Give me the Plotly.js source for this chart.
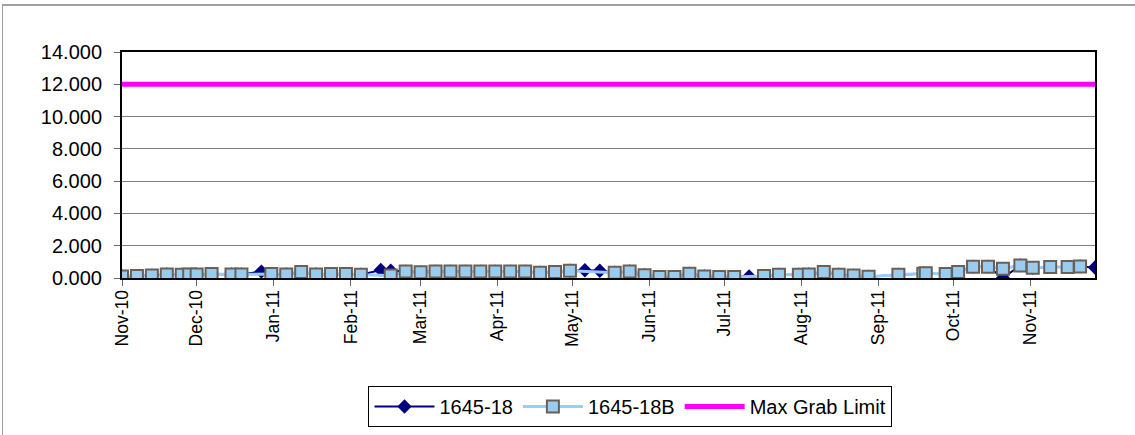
<!DOCTYPE html>
<html>
<head>
<meta charset="utf-8">
<script src="https://cdn.plot.ly/plotly-3.0.1.min.js"></script>
<style>
  html, body { margin: 0; padding: 0; background: #fff; }
  #chart { width: 1135px; height: 435px; position: absolute; left: 0; top: 0; }
  #frame { position: absolute; left: 2px; top: 4px; width: 1140px; height: 440px;
           border-left: 1px solid #a0a0a0; border-top: 2px solid #a0a0a0; pointer-events: none; }
</style>
</head>
<body>
<div id="chart"></div>
<div id="frame"></div>
<script>
// 1645-18B (squares)
const dates18B = ["2010-11-01","2010-11-07","2010-11-13","2010-11-19","2010-11-25","2010-11-28","2010-12-01","2010-12-07","2010-12-15","2010-12-19","2010-12-31","2011-01-06","2011-01-12","2011-01-18","2011-01-24","2011-01-30","2011-02-05","2011-02-17","2011-02-23","2011-03-01","2011-03-07","2011-03-13","2011-03-19","2011-03-25","2011-03-31","2011-04-06","2011-04-12","2011-04-18","2011-04-24","2011-04-30","2011-05-18","2011-05-24","2011-05-30","2011-06-05","2011-06-11","2011-06-17","2011-06-23","2011-06-29","2011-07-05","2011-07-17","2011-07-23","2011-07-31","2011-08-04","2011-08-10","2011-08-16","2011-08-22","2011-08-28","2011-09-09","2011-09-19","2011-09-20","2011-09-28","2011-10-03","2011-10-09","2011-10-15","2011-10-21","2011-10-28","2011-11-02","2011-11-09","2011-11-16","2011-11-21"];
const vals18B = [0.10,0.12,0.15,0.22,0.20,0.22,0.22,0.25,0.22,0.22,0.25,0.22,0.37,0.22,0.25,0.25,0.20,0.15,0.40,0.35,0.40,0.40,0.40,0.40,0.40,0.40,0.40,0.33,0.37,0.45,0.33,0.41,0.17,0.06,0.06,0.27,0.10,0.06,0.06,0.12,0.20,0.20,0.22,0.37,0.20,0.15,0.08,0.20,0.27,0.30,0.25,0.37,0.70,0.70,0.57,0.78,0.63,0.68,0.68,0.72];

// 1645-18 (diamonds)
const dates18 = ["2010-11-01","2010-11-07","2010-11-13","2010-11-19","2010-11-25","2010-12-01","2010-12-07","2010-12-15","2010-12-19","2010-12-27","2010-12-31","2011-01-06","2011-01-12","2011-01-18","2011-01-24","2011-01-30","2011-02-05","2011-02-13","2011-02-17","2011-02-23","2011-03-01","2011-03-07","2011-03-13","2011-03-19","2011-03-25","2011-03-31","2011-04-06","2011-04-12","2011-04-18","2011-04-24","2011-04-30","2011-05-06","2011-05-12","2011-05-18","2011-05-24","2011-05-30","2011-06-05","2011-06-11","2011-06-17","2011-06-23","2011-06-29","2011-07-05","2011-07-11","2011-07-17","2011-07-23","2011-07-31","2011-08-04","2011-08-10","2011-08-16","2011-08-22","2011-08-28","2011-09-09","2011-09-19","2011-09-28","2011-10-03","2011-10-09","2011-10-15","2011-10-21","2011-10-28","2011-11-02","2011-11-09","2011-11-16","2011-11-21","2011-11-27"];
const vals18 = [0.10,0.12,0.15,0.22,0.20,0.22,0.25,0.22,0.22,0.40,0.25,0.22,0.37,0.22,0.25,0.25,0.20,0.50,0.45,0.40,0.35,0.40,0.40,0.40,0.40,0.40,0.40,0.40,0.33,0.37,0.45,0.48,0.45,0.33,0.41,0.17,0.06,0.06,0.27,0.10,0.06,0.06,0.10,0.12,0.20,0.20,0.22,0.37,0.20,0.15,0.08,0.20,0.27,0.25,0.37,0.70,0.70,0.00,0.78,0.63,0.68,0.68,0.72,0.65];

// Max Grab Limit
const limitDates = ["2010-11-01","2011-11-27"];
const limitVals = [12, 12];

const axisRange = ["2010-11-01","2011-11-27"];
const yTicks = [0, 2, 4, 6, 8, 10, 12, 14];

const font = "Arial, 'Liberation Sans', sans-serif";

const traces = [
  {
    name: "1645-18", type: "scatter", mode: "lines+markers",
    x: dates18, y: vals18,
    line: { color: "#000080", width: 2 },
    marker: { symbol: "diamond", size: 11, color: "#000080" }
  },
  {
    name: "1645-18B", type: "scatter", mode: "lines+markers",
    x: dates18B, y: vals18B,
    line: { color: "#99CCFF", width: 3 },
    marker: { symbol: "square", size: 12, color: "#99CCEE", line: { color: "#6B6058", width: 2 } }
  },
  {
    name: "Max Grab Limit", type: "scatter", mode: "lines",
    x: limitDates, y: limitVals,
    line: { color: "#FF00FF", width: 5 }
  }
];

const layout = {
  width: 1135, height: 435,
  margin: { l: 122, r: 40, t: 52, b: 157, pad: 0, autoexpand: false },
  paper_bgcolor: "#ffffff", plot_bgcolor: "#ffffff",
  showlegend: true,
  font: { family: font, color: "#000000", size: 17 },
  xaxis: {
    type: "date", range: axisRange,
    tick0: "2010-11-01", dtick: "M1", tickformat: "%b-%y", tickangle: -90,
    ticks: "outside", ticklen: 6, tickcolor: "#666666", tickwidth: 1,
    ticklabelstandoff: -3,
    showgrid: false, zeroline: false,
    showline: true, linecolor: "#000000", linewidth: 2, mirror: true,
    tickfont: { family: font, size: 17.5, color: "#000000" }
  },
  yaxis: {
    range: [0, 14], tickmode: "array", tickvals: yTicks, tickformat: ".3f",
    ticks: "outside", ticklen: 6, tickcolor: "#666666", tickwidth: 1,
    ticklabelstandoff: 8,
    showgrid: true, gridcolor: "#808080", gridwidth: 1, zeroline: false,
    showline: true, linecolor: "#000000", linewidth: 2, mirror: true,
    tickfont: { family: font, size: 20, color: "#000000" }
  },
  legend: {
    orientation: "h",
    xref: "container", yref: "container",
    x: 0.5555, xanchor: "center", y: 0.1126, yanchor: "top",
    bordercolor: "#000000", borderwidth: 1, bgcolor: "#ffffff",
    font: { family: font, size: 20, color: "#000000" },
    itemwidth: 60
  }
};

Plotly.newPlot("chart", traces, layout, { displayModeBar: false, staticPlot: true });
</script>
</body>
</html>
